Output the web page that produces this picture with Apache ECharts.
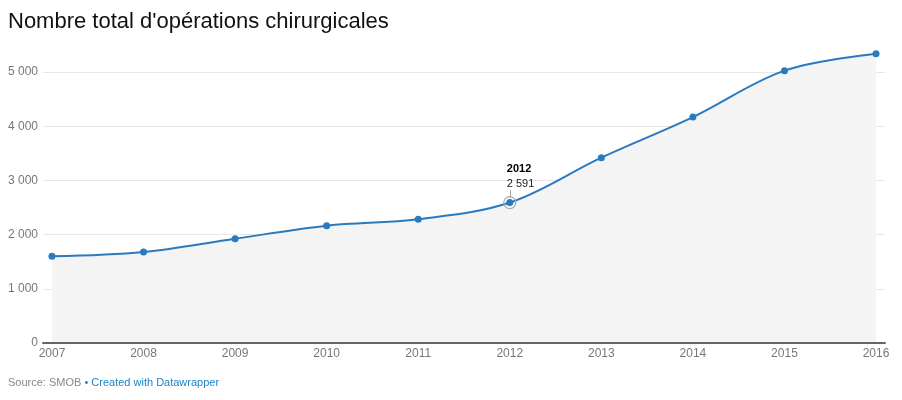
<!DOCTYPE html>
<html>
<head>
<meta charset="utf-8">
<script src="https://cdn.jsdelivr.net/npm/echarts@6/dist/echarts.min.js"></script>
<style>
html,body{margin:0;padding:0;background:#fff;}
#chart{width:902px;height:400px;}
</style>
</head>
<body>
<div id="chart"></div>
<script>
var years = [2007, 2008, 2009, 2010, 2011, 2012, 2013, 2014, 2015, 2016];
var operations = [1600, 1680, 1925, 2165, 2285, 2591, 3420, 4168, 5025, 5338];
var yTicks = [0, 1000, 2000, 3000, 4000, 5000];
var highlightYear = 2012;

function fmt(v) {
  return String(v).replace(/\B(?=(\d{3})+(?!\d))/g, ' ');
}

var points = years.map(function (y, i) { return [y, operations[i]]; });
var hiIdx = years.indexOf(highlightYear);
var hiVal = operations[hiIdx];

var myChart = echarts.init(document.getElementById('chart'));
var option = {
  backgroundColor: '#fff',
  animation: false,
  textStyle: { fontFamily: 'Liberation Sans, Arial, sans-serif' },
  title: [
    {
      text: "Nombre total d'opérations chirurgicales",
      left: 3,
      top: 6,
      textStyle: { fontSize: 22, fontWeight: 'normal', color: '#111' }
    },
    {
      text: '{s|Source: SMOB }{b|• Created with Datawrapper}',
      left: 3,
      top: 372,
      textStyle: {
        fontWeight: 'normal',
        rich: {
          s: { fontSize: 11, fontWeight: 'normal', color: '#888' },
          b: { fontSize: 11, fontWeight: 'normal', color: '#1d81c2' }
        }
      }
    }
  ],
  grid: { left: 43, right: 17, top: 72, bottom: 57 },
  xAxis: {
    type: 'value',
    min: 2006.902,
    max: 2016.098,
    z: 10,
    axisLine: { show: true, onZero: false, lineStyle: { color: '#666', width: 2 } },
    axisTick: { show: false },
    splitLine: { show: false },
    axisLabel: {
      customValues: years,
      color: '#777',
      fontSize: 12,
      margin: 5,
      formatter: function (v) { return String(v); }
    }
  },
  yAxis: {
    type: 'value',
    min: 0,
    max: 5000,
    interval: 1000,
    axisLine: { show: false },
    axisTick: { show: false },
    splitLine: { lineStyle: { color: '#e6e6e6', width: 1 } },
    axisLabel: {
      color: '#777',
      fontSize: 12,
      margin: 5,
      customValues: yTicks,
      formatter: function (v) { return fmt(v); }
    }
  },
  series: [
    {
      type: 'line',
      data: points,
      smooth: 0.35,
      symbol: 'circle',
      symbolSize: 7,
      clip: false,
      lineStyle: { color: '#2a7ac0', width: 2 },
      itemStyle: { color: '#2a7ac0' },
      areaStyle: { color: '#f4f4f4', opacity: 1 },
      z: 3,
      markPoint: {
        symbol: 'circle',
        symbolSize: 12,
        silent: true,
        itemStyle: { color: 'rgba(255,255,255,0)', borderColor: '#aaa', borderWidth: 1.2 },
        label: {
          show: true,
          position: 'top',
          distance: 5,
          align: 'left',
          offset: [-3, 0],
          formatter: '{y|' + highlightYear + '}\n{v|' + fmt(hiVal) + '}',
          rich: {
            y: { fontSize: 11, fontWeight: 'bold', color: '#000', lineHeight: 15 },
            v: { fontSize: 11, color: '#222', lineHeight: 14 }
          }
        },
        data: [{ coord: [highlightYear, hiVal] }]
      },
      markLine: {
        silent: true,
        symbol: 'none',
        label: { show: false },
        lineStyle: { color: '#aaa', width: 1, type: 'solid' },
        data: [[{ coord: [highlightYear, hiVal + 85] }, { coord: [highlightYear, hiVal + 230] }]]
      }
    }
  ]
};
myChart.setOption(option);
</script>
</body>
</html>
